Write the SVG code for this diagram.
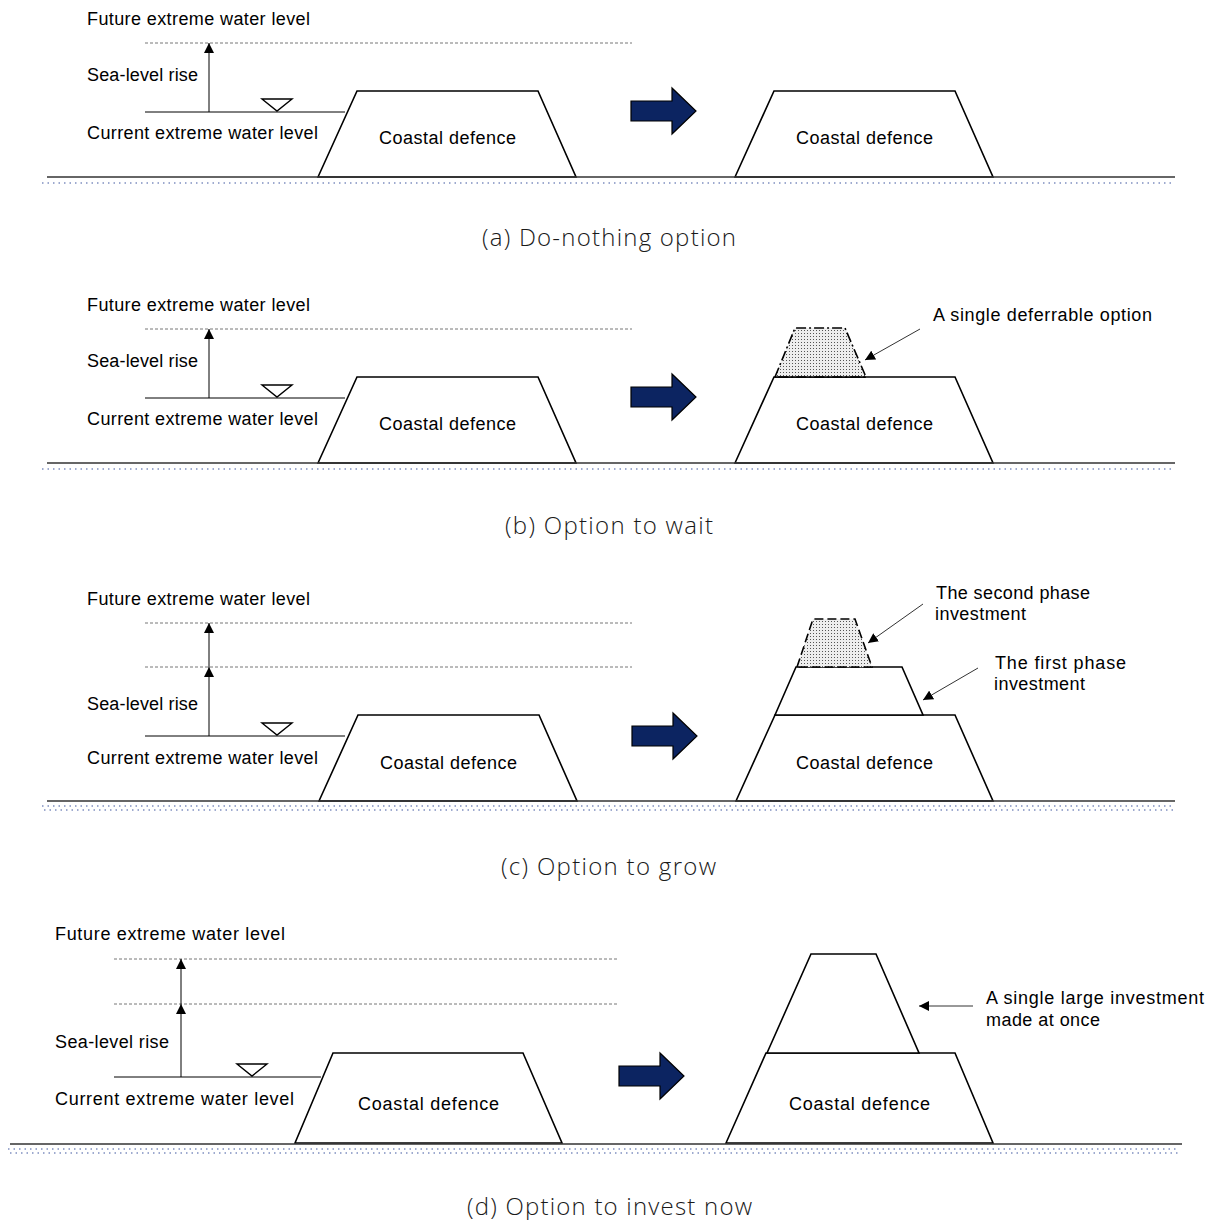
<svg xmlns="http://www.w3.org/2000/svg" width="1214" height="1220" viewBox="0 0 1214 1220">
  <style>
    .lbl { font-family: "Liberation Sans", "DejaVu Sans", sans-serif; font-size: 18px; fill: #000; }
    .cap { font-family: "Open Sans", "Liberation Sans", sans-serif; font-weight: 300; font-size: 24px; fill: #1a1a1a; }
    .dike { fill: #fff; stroke: #000; stroke-width: 1.6; stroke-linejoin: miter; }
    .extra { fill: url(#dots); stroke: #000; stroke-width: 1.6; }
    .level { stroke: #777; stroke-width: 1; stroke-dasharray: 3 2; fill: none; }
    .water { stroke: #000; stroke-width: 1; fill: none; }
    .ground { stroke: #333; stroke-width: 1.5; }
    .sand { stroke: #7f8fc0; stroke-width: 1.5; stroke-dasharray: 1.5 4; }
    .rise { stroke: #000; stroke-width: 1; marker-end: url(#tip); }
    .note { stroke: #333; stroke-width: 1; marker-end: url(#tip); }
    .wsym { fill: #fff; stroke: #000; stroke-width: 1.4; }
    .bigarrow { fill: #0c2461; stroke: #000; stroke-width: 1.2; }
  </style>
  <defs>
    <marker id="tip" viewBox="0 0 10 10" refX="10" refY="5" markerWidth="10" markerHeight="10" markerUnits="userSpaceOnUse" orient="auto">
      <path d="M0,0 L10,5 L0,10 Z" fill="#000"/>
    </marker>
    <pattern id="dots" width="3" height="3" patternUnits="userSpaceOnUse">
      <rect width="3" height="3" fill="#eee"/>
      <rect width="1" height="1" fill="#555"/>
    </pattern>
    <path id="blockArrow" d="M0,-10 H41 V-23 L65,0 L41,23 V10 H0 Z"/>
  </defs>

  <!-- (a) Do-nothing option -->
  <g id="panel-a">
    <text class="lbl" x="87" y="25" textLength="223">Future extreme water level</text>
    <line class="level" x1="145" y1="43" x2="632" y2="43"/>
    <text class="lbl" x="87" y="81" textLength="111">Sea-level rise</text>
    <line class="water" x1="145" y1="112" x2="345" y2="112"/>
    <polygon class="wsym" points="262,99 292,99 277,111"/>
    <text class="lbl" x="87" y="139" textLength="231">Current extreme water level</text>
    <g id="a-dike-left">
      <polygon class="dike" points="318,177 357,91 538,91 576,177"/>
      <text class="lbl" x="379" y="144" textLength="137">Coastal defence</text>
    </g>
    <use href="#blockArrow" class="bigarrow" transform="translate(631,111)"/>
    <g id="a-dike-right">
      <polygon class="dike" points="735,177 774,91 955,91 993,177"/>
      <text class="lbl" x="796" y="144" textLength="137">Coastal defence</text>
    </g>
    <line class="ground" x1="47" y1="177" x2="1175" y2="177"/>
    <line class="sand" x1="42" y1="183" x2="1175" y2="183"/>
    <text class="cap" x="482" y="246" textLength="254">(a) Do-nothing option</text>
  </g>

  <!-- (b) Option to wait -->
  <g id="panel-b">
    <text class="lbl" x="87" y="311" textLength="223">Future extreme water level</text>
    <line class="level" x1="145" y1="329" x2="632" y2="329"/>
    <text class="lbl" x="87" y="367" textLength="111">Sea-level rise</text>
    <line class="water" x1="145" y1="398" x2="345" y2="398"/>
    <polygon class="wsym" points="262,385 292,385 277,397"/>
    <text class="lbl" x="87" y="425" textLength="231">Current extreme water level</text>
    <g id="b-dike-left">
      <polygon class="dike" points="318,463 357,377 538,377 576,463"/>
      <text class="lbl" x="379" y="430" textLength="137">Coastal defence</text>
    </g>
    <use href="#blockArrow" class="bigarrow" transform="translate(631,397)"/>
    <g id="b-dike-right">
      <polygon class="dike" points="735,463 774,377 955,377 993,463"/>
      <text class="lbl" x="796" y="430" textLength="137">Coastal defence</text>
    </g>
    <g id="b-deferrable">
      <polygon class="extra" points="775,377 795,328 845,328 866,377" stroke-dasharray="10 3 2 3"/>
      <line x1="775" y1="377" x2="866" y2="377" stroke="#000" stroke-width="1.6"/>
      <text class="lbl" x="933" y="321" textLength="219">A single deferrable option</text>
    </g>
    <line class="ground" x1="47" y1="463" x2="1175" y2="463"/>
    <line class="sand" x1="42" y1="469" x2="1175" y2="469"/>
    <text class="cap" x="505" y="534" textLength="208">(b) Option to wait</text>
  </g>

  <!-- (c) Option to grow -->
  <g id="panel-c">
    <text class="lbl" x="87" y="605" textLength="223">Future extreme water level</text>
    <line class="level" x1="145" y1="623" x2="632" y2="623"/>
    <line class="level" x1="145" y1="667" x2="632" y2="667"/>
    <text class="lbl" x="87" y="710" textLength="111">Sea-level rise</text>
    <line class="water" x1="145" y1="736" x2="345" y2="736"/>
    <polygon class="wsym" points="262,723 292,723 277,735"/>
    <text class="lbl" x="87" y="764" textLength="231">Current extreme water level</text>
    <g id="c-dike-left">
      <polygon class="dike" points="319,801 358,715 539,715 577,801"/>
      <text class="lbl" x="380" y="769" textLength="137">Coastal defence</text>
    </g>
    <use href="#blockArrow" class="bigarrow" transform="translate(632,736)"/>
    <g id="c-dike-right">
      <polygon class="dike" points="736,801 775,715 955,715 993,801"/>
      <text class="lbl" x="796" y="769" textLength="137">Coastal defence</text>
    </g>
    <g id="c-first-phase">
      <polygon class="dike" points="775,715 796,667 902,667 923,715"/>
      <text class="lbl" x="995" y="669" textLength="131">The first phase</text>
      <text class="lbl" x="994" y="690" textLength="91">investment</text>
    </g>
    <g id="c-second-phase">
      <polygon class="extra" points="797,667 813,619 855,619 872,667" stroke-dasharray="9 4"/>
      <text class="lbl" x="936" y="599" textLength="154">The second  phase</text>
      <text class="lbl" x="935" y="620" textLength="91">investment</text>
    </g>
    <line class="ground" x1="47" y1="801" x2="1175" y2="801"/>
    <line class="sand" x1="42" y1="806" x2="1175" y2="806"/>
    <line class="sand" x1="44" y1="810" x2="1175" y2="810"/>
    <text class="cap" x="501" y="875" textLength="215">(c) Option to grow</text>
  </g>

  <!-- (d) Option to invest now -->
  <g id="panel-d">
    <text class="lbl" x="55" y="940" textLength="230">Future extreme water level</text>
    <line class="level" x1="114" y1="959" x2="619" y2="959"/>
    <line class="level" x1="114" y1="1004" x2="619" y2="1004"/>
    <text class="lbl" x="55" y="1048" textLength="114">Sea-level rise</text>
    <line class="water" x1="114" y1="1077" x2="321" y2="1077"/>
    <polygon class="wsym" points="237,1064 267,1064 252,1076"/>
    <text class="lbl" x="55" y="1105" textLength="239">Current extreme water level</text>
    <g id="d-dike-left">
      <polygon class="dike" points="295,1143 333,1053 523,1053 562,1143"/>
      <text class="lbl" x="358" y="1110" textLength="141">Coastal defence</text>
    </g>
    <use href="#blockArrow" class="bigarrow" transform="translate(619,1076)"/>
    <g id="d-dike-right">
      <polygon class="dike" points="726,1143 766,1053 955,1053 993,1143"/>
      <text class="lbl" x="789" y="1110" textLength="141">Coastal defence</text>
    </g>
    <g id="d-large-investment">
      <polygon class="dike" points="767,1053 811,954 876,954 919,1053"/>
      <text class="lbl" x="986" y="1004" textLength="218">A single large investment</text>
      <text class="lbl" x="986" y="1026" textLength="114">made at once</text>
    </g>
    <line class="ground" x1="10" y1="1144" x2="1182" y2="1144"/>
    <line class="sand" x1="8" y1="1149" x2="1178" y2="1149"/>
    <line class="sand" x1="10" y1="1153" x2="1178" y2="1153"/>
    <text class="cap" x="467" y="1215" textLength="285">(d) Option to invest now</text>
  </g>

  <!-- connectors: sea-level rise arrows and annotation pointers -->
  <g id="connectors">
    <line class="rise" x1="209" y1="112" x2="209" y2="43"/>
    <line class="rise" x1="209" y1="398" x2="209" y2="329"/>
    <line class="rise" x1="209" y1="736" x2="209" y2="667"/>
    <line class="rise" x1="209" y1="667" x2="209" y2="623"/>
    <line class="rise" x1="181" y1="1077" x2="181" y2="1004"/>
    <line class="rise" x1="181" y1="1004" x2="181" y2="959"/>
    <line class="note" x1="920" y1="329" x2="865" y2="360"/>
    <line class="note" x1="923" y1="604" x2="868" y2="643"/>
    <line class="note" x1="978" y1="668" x2="923" y2="700"/>
    <line class="note" x1="973" y1="1006" x2="919" y2="1006"/>
  </g>
</svg>
